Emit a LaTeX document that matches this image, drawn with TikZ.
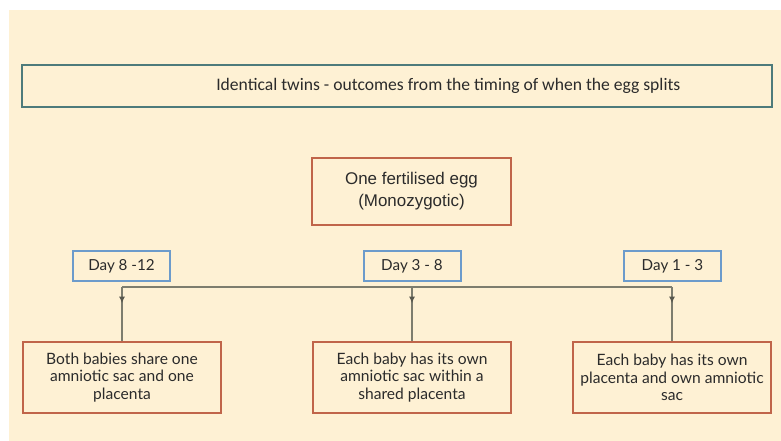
\documentclass[tikz,border=0pt]{standalone}
\usepackage{fontspec}
\setmainfont{Liberation Sans}
\newfontfamily\titlefont{Carlito}
\newfontfamily\roundfont{Lato}
\usepackage{tikz}
\usetikzlibrary{arrows.meta, positioning, decorations.markings}

\definecolor{cream}{HTML}{FEF1D4}
\definecolor{teal}{HTML}{4E7B7B}
\definecolor{brick}{HTML}{C0654A}
\definecolor{skyline}{HTML}{6C9BCB}
\definecolor{wire}{HTML}{7D7D6E}
\definecolor{ink}{HTML}{2B2B2B}

\begin{document}
\begin{tikzpicture}[
    x=0.75pt, y=-0.75pt,
    title/.style={draw=teal, line width=1.5pt, minimum width=562.5pt, minimum height=31.5pt, text=ink, font=\titlefont\fontsize{13.2}{15}\selectfont},
    egg/.style={draw=brick, line width=1.2pt, minimum width=149.25pt, minimum height=50.25pt, align=center, text=ink, font=\fontsize{12.7}{16.5}\selectfont},
    day/.style={draw=skyline, line width=1.5pt, minimum width=72.75pt, minimum height=22.5pt, text=ink, font=\roundfont\fontsize{11.4}{13}\selectfont},
    outcome/.style={draw=brick, line width=1.2pt, minimum width=148.5pt, minimum height=53.25pt, align=center, text=ink, font=\roundfont\fontsize{11.7}{13}\selectfont},
    bus/.style={wire, line width=0.8pt},
    drop/.style={wire, line width=0.8pt, postaction={decorate}, decoration={markings, mark=at position 0.3 with {\arrow[wire!70!black]{Latex[length=5pt,width=4.5pt]}}}}
]
\useasboundingbox (0,0) rectangle (781,441);
\fill[white] (0,0) rectangle (781,441);
\fill[cream] (9,10) rectangle (781,441);

% title text sits right of the box centre
\node[title] (T) at (397,86) {\hspace*{77pt}Identical twins - outcomes from the timing of when the egg splits};
\node[egg] (E) at (411.5,191.5) {One fertilised egg\\(Monozygotic)};

\node[day] (D1) at (121.5,266) {Day 8 -12};
\node[day] (D2) at (412,266) {Day 3 - 8};
\node[day] (D3) at (672.5,266) {Day 1 - 3};

\node[outcome] (O1) at (122,377.5) {Both babies share one\\amniotic sac and one\\placenta};
\node[outcome] (O2) at (412,377.5) {Each baby has its own\\amniotic sac within a\\shared placenta};
\node[outcome] (O3) at (672,377.5) {Each baby has its own\\placenta and own amniotic\\sac};

\coordinate (L) at (122,287);
\coordinate (M) at (412,287);
\coordinate (R) at (672,287);

\draw[bus] (L) -- (R);
\draw[drop] (L) -- (O1);
\draw[drop] (M) -- (O2);
\draw[drop] (R) -- (O3);
\end{tikzpicture}
\end{document}
